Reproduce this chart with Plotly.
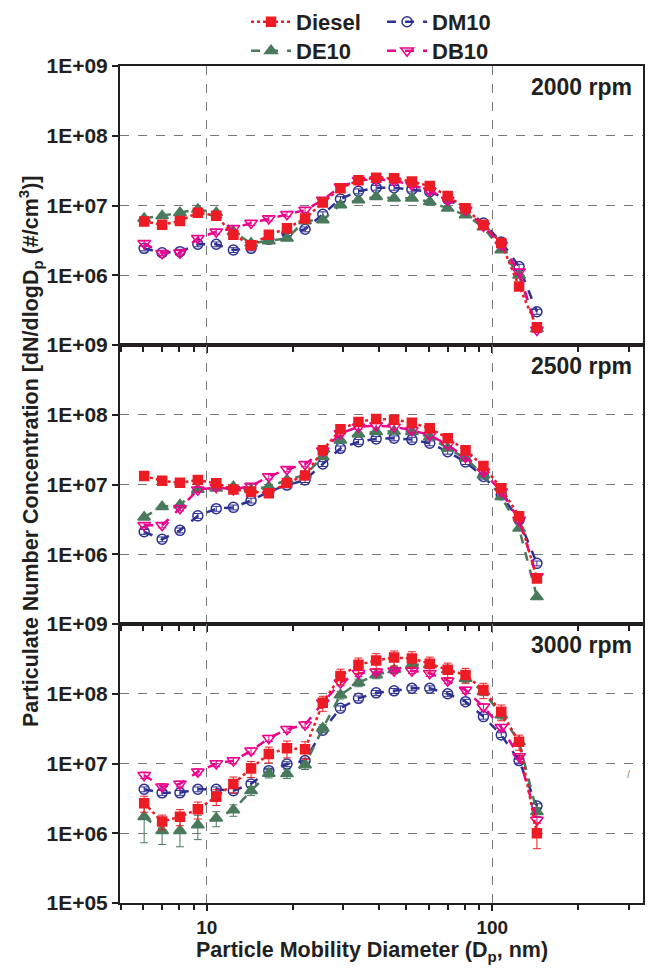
import plotly.graph_objects as go
from plotly.subplots import make_subplots

# particle mobility diameter (nm), SMPS channel midpoints
dp = [6.04, 6.98, 8.06, 9.31, 10.8, 12.4, 14.3, 16.5, 19.1, 22.1, 25.5, 29.4,
      34.0, 39.2, 45.3, 52.3, 60.4, 69.8, 80.6, 93.1, 107.5, 124.1, 143.3]

# 2000 rpm
diesel_2000 = [5.9e6, 5.3e6, 6.0e6, 7.9e6, 7.1e6, 3.8e6, 2.7e6, 3.8e6, 4.7e6, 6.5e6, 1.1e7, 1.77e7,
               2.3e7, 2.5e7, 2.45e7, 2.2e7, 1.9e7, 1.37e7, 9.1e6, 5.3e6, 2.9e6, 6.9e5, 1.8e5]
dm10_2000 = [2.43e6, 2.1e6, 2.18e6, 2.78e6, 2.78e6, 2.3e6, 2.43e6, 3.27e6, 4.0e6, 4.56e6, 7.5e6, 1.24e7,
             1.6e7, 1.8e7, 1.8e7, 1.7e7, 1.58e7, 1.23e7, 8.8e6, 5.6e6, 3.0e6, 1.33e6, 3.0e5]
de10_2000 = [6.5e6, 7.1e6, 7.9e6, 8.8e6, 7.9e6, 4.2e6, 2.87e6, 3.1e6, 3.4e6, 6.0e6, 6.2e6, 1.02e7,
             1.2e7, 1.34e7, 1.27e7, 1.27e7, 1.13e7, 9.1e6, 7.3e6, 4.9e6, 2.3e6, 1.0e6, 1.7e5]
db10_2000 = [2.87e6, 2.07e6, 2.1e6, 3.4e6, 4.2e6, 4.7e6, 5.6e6, 6.5e6, 7.5e6, 8.6e6, 1.2e7, 1.86e7,
             2.3e7, 2.36e7, 2.27e7, 1.97e7, 1.63e7, 1.2e7, 8.6e6, 5.1e6, 2.7e6, 1.12e6, 1.64e5]

# 2500 rpm
diesel_2500 = [1.32e7, 1.13e7, 1.06e7, 1.16e7, 1.04e7, 8.5e6, 7.9e6, 7.5e6, 1.05e7, 1.35e7, 3.1e7, 6.2e7,
               7.9e7, 8.7e7, 8.5e7, 7.7e7, 6.4e7, 4.6e7, 3.1e7, 1.84e7, 8.8e6, 3.5e6, 4.5e5]
dm10_2500 = [2.1e6, 1.64e6, 2.2e6, 3.55e6, 4.5e6, 4.7e6, 5.9e6, 7.9e6, 9.8e6, 1.16e7, 1.97e7, 3.3e7,
             4.1e7, 4.5e7, 4.6e7, 4.4e7, 3.9e7, 2.96e7, 2.1e7, 1.3e7, 7.1e6, 3.1e6, 7.4e5]
de10_2500 = [3.4e6, 4.8e6, 5.1e6, 8.5e6, 8.8e6, 9.3e6, 8.4e6, 9.3e6, 1.16e7, 1.37e7, 2.5e7, 4.3e7,
             5.3e7, 5.7e7, 5.8e7, 5.7e7, 4.8e7, 3.3e7, 2.37e7, 1.37e7, 6.7e6, 2.35e6, 2.45e5]
db10_2500 = [2.6e6, 2.6e6, 4.56e6, 8.4e6, 9.1e6, 8.5e6, 9.5e6, 1.3e7, 1.65e7, 1.95e7, 3.05e7, 5.4e7,
             6.7e7, 7.0e7, 6.7e7, 6.0e7, 5.1e7, 3.7e7, 2.45e7, 1.52e7, 7.9e6, 3.1e6, 4.8e5]

# 3000 rpm
diesel_3000 = [2.7e6, 1.47e6, 1.73e6, 2.2e6, 3.35e6, 5.1e6, 8.5e6, 1.37e7, 1.65e7, 1.6e7, 7.4e7, 1.8e8,
               2.6e8, 3.0e8, 3.3e8, 3.2e8, 2.7e8, 2.2e8, 1.86e8, 1.13e8, 5.5e7, 2.05e7, 1.0e6]
dm10_3000 = [4.27e6, 3.8e6, 3.8e6, 4.27e6, 4.27e6, 4.07e6, 5.1e6, 7.9e6, 9.8e6, 1.1e7, 3.0e7, 6.2e7,
             8.6e7, 1.03e8, 1.1e8, 1.2e8, 1.2e8, 1.0e8, 7.7e7, 4.7e7, 2.56e7, 1.1e7, 2.45e6]
de10_3000 = [1.73e6, 1.09e6, 1.09e6, 1.31e6, 1.64e6, 2.15e6, 4.07e6, 7.2e6, 7.1e6, 9.5e6, 3.2e7, 9.6e7,
             1.44e8, 1.86e8, 2.2e8, 2.6e8, 2.6e8, 2.2e8, 1.66e8, 1.07e8, 4.95e7, 2.05e7, 2.04e6]
db10_3000 = [6.8e6, 4.65e6, 5.1e6, 7.6e6, 1.0e7, 1.1e7, 1.52e7, 2.3e7, 3.1e7, 3.6e7, 7.4e7, 1.44e8,
             1.96e8, 2.07e8, 2.14e8, 2.14e8, 1.96e8, 1.54e8, 1.13e8, 6.5e7, 3.3e7, 1.26e7, 1.55e6]

# error bars (3000 rpm)
diesel_3000_err = [7e5, 3.5e5, 4.5e5, 6e5, 8.5e5, 1.3e6, 2.2e6, 3.5e6, 4.5e6, 4.5e6, 1.8e7, 4.5e7,
                   6.5e7, 7.5e7, 8e7, 8e7, 6.5e7, 5.5e7, 4.5e7, 2.8e7, 1.4e7, 5e6, 4e5]
de10_3000_err = [1.0e6, 4e5, 4.5e5, 5e5, 4e5, 4e5, 6e5, 1.0e6, 1.0e6, 1.3e6, 4e6, 1.2e7,
                 1.8e7, 2.2e7, 2.6e7, 3e7, 3e7, 2.5e7, 2e7, 1.3e7, 6e6, 2.5e6, 3e5]
db10_3000_err = [7e5, 4.5e5, 5e5, 7.5e5, 1e6, 1.1e6, 1.5e6, 2.3e6, 3e6, 3.5e6, 7e6, 1.4e7,
                 2e7, 2e7, 2e7, 2e7, 2e7, 1.5e7, 1.1e7, 6.5e6, 3.3e6, 1.2e6, 1.5e5]

rpm_labels = ['2000 rpm', '2500 rpm', '3000 rpm']
x_minor = [5, 6, 7, 8, 9, 20, 30, 40, 50, 60, 70, 80, 90, 200, 300]

styles = {
    'Diesel': dict(color='#ed1c24', dash='dot', symbol='square', size=9, legend='legend', rank=1),
    'DM10': dict(color='#2e3192', dash='dash', symbol='circle-open', size=10, legend='legend', rank=2),
    'DE10': dict(color='#4a7a5c', dash='dash', symbol='triangle-up', size=11, legend='legend2', rank=3),
    'DB10': dict(color='#ec008c', dash='dash', symbol='triangle-down-open', size=11, legend='legend2', rank=4),
}

panels = [
    {'Diesel': (diesel_2000, None), 'DM10': (dm10_2000, None), 'DE10': (de10_2000, None), 'DB10': (db10_2000, None)},
    {'Diesel': (diesel_2500, None), 'DM10': (dm10_2500, None), 'DE10': (de10_2500, None), 'DB10': (db10_2500, None)},
    {'Diesel': (diesel_3000, diesel_3000_err), 'DM10': (dm10_3000, None),
     'DE10': (de10_3000, de10_3000_err), 'DB10': (db10_3000, db10_3000_err)},
]

fig = make_subplots(rows=3, cols=1, vertical_spacing=0)

for i, panel in enumerate(panels):
    row = i + 1
    for name in ['DM10', 'DE10', 'DB10', 'Diesel']:
        vals, err = panel[name]
        s = styles[name]
        tr = go.Scatter(
            x=dp, y=vals, name=name, mode='lines+markers',
            line=dict(color=s['color'], dash=s['dash'], width=2.5),
            marker=dict(symbol=s['symbol'], size=s['size'], color=s['color'],
                        line=dict(color=s['color'], width=1.5)),
            legend=s['legend'], legendrank=s['rank'], showlegend=(row == 1),
        )
        if err is not None:
            tr.error_y = dict(type='data', array=err, visible=True, color=s['color'],
                              thickness=1, width=4)
        elif name in ('DM10', 'DB10'):
            # small bars that show as the cross inside the open markers
            tr.error_y = dict(type='percent', value=8, visible=True, color=s['color'],
                              thickness=1, width=4)
        fig.add_trace(tr, row=row, col=1)

ink = '#231f20'
for row in range(1, 4):
    fig.update_xaxes(
        type='log', range=[0.6964, 2.5277], tickvals=[10, 100], ticktext=['10', '100'],
        showticklabels=(row == 3), tickfont=dict(size=19),
        ticks='outside', ticklen=6, tickwidth=1.5, tickcolor=ink,
        showgrid=True, gridcolor='#777', griddash='dash', gridwidth=1,
        minor=dict(tickvals=x_minor, ticks='outside', ticklen=5, tickwidth=1.5, tickcolor=ink, showgrid=False),
        showline=True, linecolor=ink, linewidth=2, mirror=True, zeroline=False,
        row=row, col=1)
    tv = [1e6, 1e7, 1e8, 1e9] if row < 3 else [1e5, 1e6, 1e7, 1e8, 1e9]
    tt = ['1E+06', '1E+07', '1E+08', '1E+09'] if row < 3 else ['1E+05', '1E+06', '1E+07', '1E+08', '1E+09']
    fig.update_yaxes(
        type='log', range=[5, 9], tickvals=tv, ticktext=tt, tickfont=dict(size=21),
        ticks='outside', ticklen=6, tickwidth=1.5, tickcolor=ink,
        showgrid=True, gridcolor='#777', griddash='dash', gridwidth=1,
        showline=True, linecolor=ink, linewidth=2, mirror=True, zeroline=False,
        row=row, col=1)

for i, lab in enumerate(rpm_labels):
    ax = '' if i == 0 else str(i + 1)
    fig.add_annotation(text=lab, xref='x%s domain' % ax, yref='y%s domain' % ax,
                       x=0.983, y=0.925, xanchor='right', yanchor='middle', showarrow=False,
                       font=dict(size=23))

fig.add_annotation(text='Particulate Number Concentration [dN/dlogD<sub>p</sub> (#/cm<sup>3</sup>)]',
                   xref='paper', yref='paper', x=-0.172, y=0.540, textangle=-90,
                   xanchor='center', yanchor='middle', showarrow=False, font=dict(size=21.5))
fig.add_annotation(text='Particle Mobility Diameter (D<sub>p</sub>, nm)',
                   xref='paper', yref='paper', x=0.482, y=-0.0585,
                   xanchor='center', yanchor='middle', showarrow=False, font=dict(size=21.5))
fig.add_annotation(text='/', xref='x3', yref='y3', x=2.48, y=6.85, showarrow=False,
                   font=dict(size=11, color='#888', weight='normal'))

legend_common = dict(orientation='h', xref='paper', yref='container', xanchor='left', yanchor='middle',
                     itemwidth=40, entrywidthmode='pixels', entrywidth=81,
                     bgcolor='rgba(0,0,0,0)', font=dict(size=22), traceorder='normal')
fig.update_layout(
    width=653, height=971,
    margin=dict(l=112, r=18, t=58, b=76, autoexpand=False),
    paper_bgcolor='white', plot_bgcolor='white',
    font=dict(family='Liberation Sans, Arial, sans-serif', size=19, color=ink, weight='bold'),
    legend=dict(x=0.241, y=1 - 14 / 971, **legend_common),
    legend2=dict(x=0.241, y=1 - 43 / 971, **legend_common),
)

fig.write_html("out.html")
